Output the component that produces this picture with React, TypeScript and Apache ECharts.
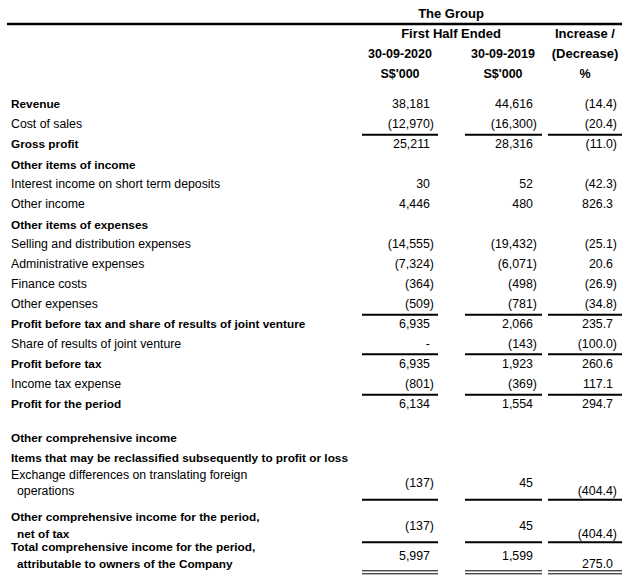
import React, { useEffect, useRef } from "react";
import * as echarts from "echarts";

// ---------- DATA ----------
const headerGroup = "The Group";
const headerPeriod = "First Half Ended";
const headerChange = ["Increase /", "(Decrease)"];
const periodLabels = ["30-09-2020", "30-09-2019"];
const unitLabels = ["S$'000", "S$'000", "%"];

const rowLabels: string[][] = [
  ["Revenue"],
  ["Cost of sales"],
  ["Gross profit"],
  ["Other items of income"],
  ["Interest income on short term deposits"],
  ["Other income"],
  ["Other items of expenses"],
  ["Selling and distribution expenses"],
  ["Administrative expenses"],
  ["Finance costs"],
  ["Other expenses"],
  ["Profit before tax and share of results of joint venture"],
  ["Share of results of joint venture"],
  ["Profit before tax"],
  ["Income tax expense"],
  ["Profit for the period"],
  ["Other comprehensive income"],
  ["Items that may be reclassified subsequently to profit or loss"],
  ["Exchange differences on translating foreign", "operations"],
  ["Other comprehensive income for the period,", "net of tax"],
  ["Total comprehensive income for the period,", "attributable to owners of the Company"],
];
const boldRows = [
  true, false, true, true, false, false, true, false, false, false, false,
  true, false, true, false, true, true, true, false, true, true,
];
const values2020: (number | null)[] = [
  38181, -12970, 25211, null, 30, 4446, null, -14555, -7324, -364, -509,
  6935, 0, 6935, -801, 6134, null, null, -137, -137, 5997,
];
const values2019: (number | null)[] = [
  44616, -16300, 28316, null, 52, 480, null, -19432, -6071, -498, -781,
  2066, -143, 1923, -369, 1554, null, null, 45, 45, 1599,
];
const changePct: (number | null)[] = [
  -14.4, -20.4, -11.0, null, -42.3, 826.3, null, -25.1, 20.6, -26.9, -34.8,
  235.7, -100.0, 260.6, 117.1, 294.7, null, null, -404.4, -404.4, 275.0,
];
// rows followed by a total rule (single) / double rule
const singleRuleAfter = [1, 10, 12, 14, 18, 19];
const doubleRuleAfter = [20];

// ---------- LAYOUT ----------
const FONT = "'Liberation Sans', Arial, sans-serif";
const LABEL_X = 11;
const CONT_INDENT = 6;
const REG_SIZE = 12.3;
const BOLD_SIZE = 11.8;
const NUM_SIZE = 12.4;
const COL_RIGHT = [434, 537, 617];
const POS_SHIFT = 4;
const COL_RULE: [number, number][] = [
  [362, 438],
  [465, 542],
  [548, 622],
];
const COL_CENTER = [400, 503, 585];
// pitch from previous row's first line to this row's first line
const ROW_PITCH = [
  0, 20, 20, 20.5, 19.5, 19.5, 21, 19.5, 20, 19.5, 20.5, 20, 19.5, 20.5, 20, 20,
  33.5, 20, 17, 42.5, 30,
];
const FIRST_ROW_Y = 104.3;
const LINE_GAP = 16.5;

function fmtAmount(v: number): string {
  if (v === 0) return "-";
  const s = Math.abs(v).toLocaleString("en-US");
  return v < 0 ? "(" + s + ")" : s;
}
function fmtPct(v: number): string {
  const s = Math.abs(v).toFixed(1);
  return v < 0 ? "(" + s + ")" : s;
}

function txt(
  text: string,
  x: number,
  y: number,
  align: string,
  bold: boolean,
  size: number
) {
  return {
    type: "text",
    x,
    y,
    silent: true,
    style: {
      text,
      fill: "#000",
      fontFamily: FONT,
      fontSize: size,
      fontWeight: bold ? "bold" : "normal",
      align,
      textAlign: align,
      verticalAlign: "middle",
      textVerticalAlign: "middle",
    },
  };
}
function rule(x1: number, x2: number, y: number, w: number) {
  return {
    type: "line",
    silent: true,
    shape: { x1, y1: y, x2, y2: y },
    style: { stroke: "#000", lineWidth: w },
  };
}

function buildGraphics() {
  const g: any[] = [];
  const HS = 13;
  // header
  g.push(txt(headerGroup, 451, 13.5, "center", true, HS));
  g.push(rule(7, 622, 24, 2.5));
  g.push(txt(headerPeriod, 451, 33.5, "center", true, HS));
  g.push(txt(headerChange[0], COL_CENTER[2], 33.5, "center", true, HS));
  g.push(txt(periodLabels[0], COL_CENTER[0], 53.5, "center", true, 12.5));
  g.push(txt(periodLabels[1], COL_CENTER[1], 53.5, "center", true, 12.5));
  g.push(txt(headerChange[1], COL_CENTER[2], 53.5, "center", true, HS));
  unitLabels.forEach((u, i) =>
    g.push(txt(u, COL_CENTER[i], 73.5, "center", true, 12.5))
  );

  let y = FIRST_ROW_Y;
  rowLabels.forEach((lines, r) => {
    y += ROW_PITCH[r];
    const bold = boldRows[r];
    lines.forEach((line, li) =>
      g.push(
        txt(
          line,
          LABEL_X + (li > 0 ? CONT_INDENT : 0),
          y + li * LINE_GAP,
          "left",
          bold,
          bold ? BOLD_SIZE : REG_SIZE
        )
      )
    );
    const multi = lines.length > 1;
    const lastY = y + (lines.length - 1) * LINE_GAP;
    const valY = multi ? y + LINE_GAP / 2 : y;
    const vals = [values2020[r], values2019[r]];
    vals.forEach((v, c) => {
      if (v === null) return;
      const neg = v < 0;
      g.push(
        txt(fmtAmount(v), COL_RIGHT[c] - (neg ? 0 : POS_SHIFT), valY, "right", false, NUM_SIZE)
      );
    });
    const p = changePct[r];
    if (p !== null) {
      g.push(
        txt(fmtPct(p), COL_RIGHT[2] - (p < 0 ? 0 : POS_SHIFT), lastY, "right", false, NUM_SIZE)
      );
    }
    if (singleRuleAfter.includes(r)) {
      const ry = multi ? lastY + 8.5 : lastY + 10.5;
      COL_RULE.forEach(([a, b]) => g.push(rule(a, b, ry, 2)));
    }
    if (doubleRuleAfter.includes(r)) {
      const ry = lastY + 7;
      COL_RULE.forEach(([a, b]) => {
        g.push(rule(a, b, ry, 1));
        g.push(rule(a, b, ry + 3, 1));
      });
    }
  });
  return g;
}

export default function App() {
  const ref = useRef<HTMLDivElement>(null);
  useEffect(() => {
    if (!ref.current) return;
    const chart = echarts.init(ref.current, undefined, { renderer: "svg" });
    chart.setOption({
      animation: false,
      backgroundColor: "#fff",
      graphic: buildGraphics(),
    });
    return () => chart.dispose();
  }, []);
  return (
    <div
      ref={ref}
      style={{ position: "fixed", left: 0, top: 0, width: 630, height: 585, background: "#fff" }}
    />
  );
}
